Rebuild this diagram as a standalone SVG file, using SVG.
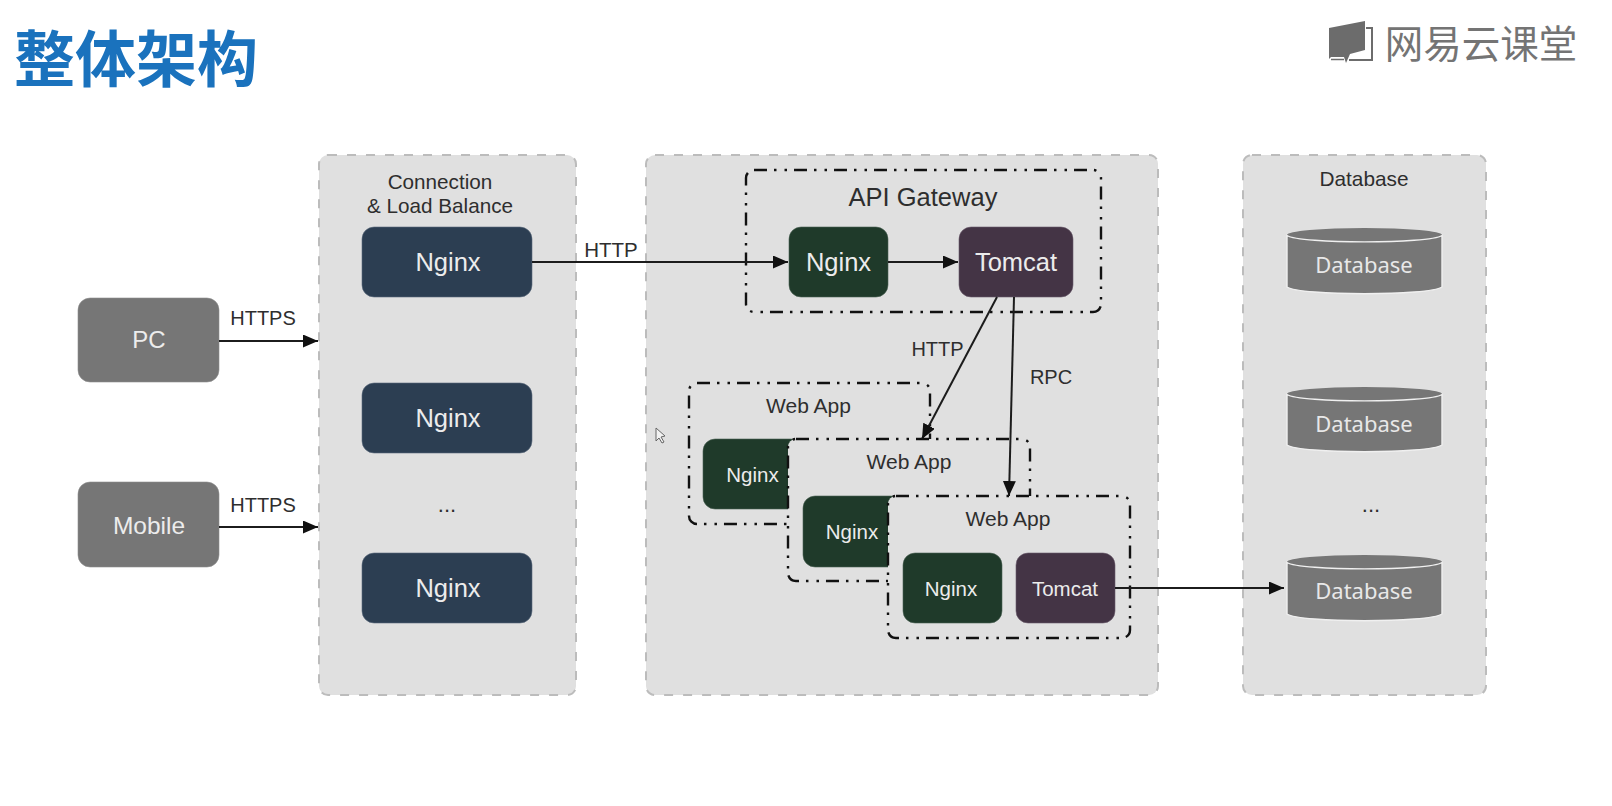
<svg xmlns="http://www.w3.org/2000/svg" width="1612" height="806" viewBox="0 0 1612 806">
<style>
text{font-family:"Liberation Sans",Arial,sans-serif;text-anchor:middle;fill:#2e2e2e}
.panel{fill:#e0e0e0;stroke:#bcbcbc;stroke-width:2;stroke-dasharray:9 10}
.group{fill:#e0e0e0;stroke:#111;stroke-width:2.4;stroke-dasharray:13 7 2.5 8 2.5 7}
.blue{fill:#2c3e52;stroke:#5a6a7c;stroke-width:.6}
.green{fill:#1f3a2a;stroke:#4c6254;stroke-width:.6}
.plum{fill:#443445;stroke:#6a5a6b;stroke-width:.6}
.grey{fill:#767676;stroke:#8e8e8e;stroke-width:.6}
.light{fill:#ececec}
.db{fill:#767676}
.dbe{fill:none;stroke:#f0f0f0;stroke-width:1.4}
.dbt{font-family:"Noto Sans","Liberation Sans",sans-serif;font-size:22px;fill:#e8e8e8}
.line{fill:none;stroke:#1c1c1c;stroke-width:2;marker-end:url(#arrow)}
</style>
<defs>
<marker id="arrow" markerUnits="userSpaceOnUse" markerWidth="16" markerHeight="14" refX="15" refY="6.5" orient="auto">
<path d="M0 0L15 6.500L0 13Z" fill="#111"/>
</marker>
</defs>
<rect width="1612" height="806" fill="#fff"/>
<text id="title" x="136" y="82" style="font-family:'Noto Sans CJK SC','Liberation Sans',sans-serif;font-size:61px;font-weight:700;fill:#1a72bd">整体架构</text>
<g id="logo">
<path d="M1329 28L1365 21V50L1350 54L1346 63L1344 57H1331L1329 59Z" fill="#6c6c6c"/>
<path d="M1366 28H1372V60H1349" fill="none" stroke="#6c6c6c" stroke-width="2"/>
<path d="M1331 59.500H1344" fill="none" stroke="#6c6c6c" stroke-width="1.500"/>
<text x="1481" y="58" style="font-family:'Noto Sans CJK SC',sans-serif;font-size:38.500px;font-weight:400;fill:#747474">网易云课堂</text>
</g>
<g id="panel-lb">
<rect class="panel" x="319" y="155" width="257" height="540" rx="9"/>
<text x="440" y="189" font-size="20.700">Connection</text>
<text x="440" y="213" font-size="20.700">&amp; Load Balance</text>
<text x="447" y="512" font-size="22">...</text>
</g>
<g id="panel-app"><rect class="panel" x="646" y="155" width="512" height="540" rx="9"/></g>
<g id="panel-db">
<rect class="panel" x="1243" y="155" width="243" height="540" rx="9"/>
<text x="1364" y="186" font-size="20.800">Database</text>
<text x="1371" y="512" font-size="22">...</text>
</g>
<g id="pc"><rect class="grey" x="78" y="298" width="141" height="84" rx="12"/><text class="light" x="149" y="348" font-size="24">PC</text></g>
<g id="mobile"><rect class="grey" x="78" y="482" width="141" height="85" rx="12"/><text class="light" x="149" y="534" font-size="24.500">Mobile</text></g>
<g id="lb-nginx-1"><rect class="blue" x="362" y="227" width="170" height="70" rx="12"/><text class="light" x="448" y="271" font-size="25.500">Nginx</text></g>
<g id="lb-nginx-2"><rect class="blue" x="362" y="383" width="170" height="70" rx="12"/><text class="light" x="448" y="427" font-size="25.500">Nginx</text></g>
<g id="lb-nginx-3"><rect class="blue" x="362" y="553" width="170" height="70" rx="12"/><text class="light" x="448" y="597" font-size="25.500">Nginx</text></g>
<g id="api-gateway">
<rect class="group" x="746" y="170" width="355" height="142" rx="8"/>
<text x="923" y="206" font-size="25.500">API Gateway</text>
</g>
<g id="gw-nginx"><rect class="green" x="789" y="227" width="99" height="70" rx="12"/><text class="light" x="838.500" y="271" font-size="25.500">Nginx</text></g>
<g id="gw-tomcat"><rect class="plum" x="959" y="227" width="114" height="70" rx="12"/><text class="light" x="1016" y="271" font-size="25.500">Tomcat</text></g>
<g id="webapp-1">
<rect class="group" x="689" y="383" width="241" height="141" rx="8"/>
<text x="808.500" y="413" font-size="21">Web App</text>
<rect class="green" x="703" y="439" width="100" height="70" rx="12"/>
<text class="light" x="752.500" y="482" font-size="20.500">Nginx</text>
</g>
<g id="webapp-2">
<rect class="group" x="788" y="439" width="242" height="142" rx="8"/>
<text x="909" y="469" font-size="21">Web App</text>
<rect class="green" x="803" y="496" width="100" height="71" rx="12"/>
<text class="light" x="852" y="539" font-size="20.500">Nginx</text>
</g>
<g id="webapp-3">
<rect class="group" x="888" y="496" width="242" height="142" rx="8"/>
<text x="1008" y="526" font-size="21">Web App</text>
<g id="wa-nginx"><rect class="green" x="903" y="553" width="99" height="70" rx="12"/><text class="light" x="951" y="596" font-size="20.500">Nginx</text></g>
<g id="wa-tomcat"><rect class="plum" x="1016" y="553" width="99" height="70" rx="12"/><text class="light" x="1065" y="596" font-size="20.500">Tomcat</text></g>
</g>
<g id="db-1"><path class="db" d="M1287 235V287C1300 296 1429 296 1442 287V235Z"/><ellipse class="db" cx="1364.500" cy="235" rx="77.500" ry="7"/><path class="dbe" d="M1287 235.500C1300 244 1429 244 1442 235.500V287C1429 296 1300 296 1287 287Z"/><text class="dbt" x="1364" y="273">Database</text></g>
<g id="db-2"><path class="db" d="M1287 394V445C1300 454 1429 454 1442 445V394Z"/><ellipse class="db" cx="1364.500" cy="394" rx="77.500" ry="7"/><path class="dbe" d="M1287 394.500C1300 403 1429 403 1442 394.500V445C1429 454 1300 454 1287 445Z"/><text class="dbt" x="1364" y="432">Database</text></g>
<g id="db-3"><path class="db" d="M1287 562V614C1300 623 1429 623 1442 614V562Z"/><ellipse class="db" cx="1364.500" cy="562" rx="77.500" ry="7"/><path class="dbe" d="M1287 562.500C1300 571 1429 571 1442 562.500V614C1429 623 1300 623 1287 614Z"/><text class="dbt" x="1364" y="599">Database</text></g>
<g id="connectors">
<line class="line" x1="219" y1="341" x2="318" y2="341"/>
<line class="line" x1="219" y1="527" x2="318" y2="527"/>
<line class="line" x1="532" y1="262" x2="788" y2="262"/>
<line class="line" x1="888" y1="262" x2="958" y2="262"/>
<line class="line" x1="997" y1="297" x2="922" y2="439"/>
<line class="line" x1="1014" y1="297" x2="1009" y2="496"/>
<line class="line" x1="1115" y1="588" x2="1284" y2="588"/>
<text x="263" y="325" font-size="20">HTTPS</text>
<text x="263" y="512" font-size="20">HTTPS</text>
<text x="611" y="257" font-size="20.500">HTTP</text>
<text x="937.500" y="356" font-size="20">HTTP</text>
<text x="1051" y="384" font-size="20">RPC</text>
</g>
<path id="cursor" d="M656 428V441L659 438L662 443L664 442L661 437L665 436Z" fill="#f2f2f2" stroke="#666" stroke-width="1"/>
</svg>
